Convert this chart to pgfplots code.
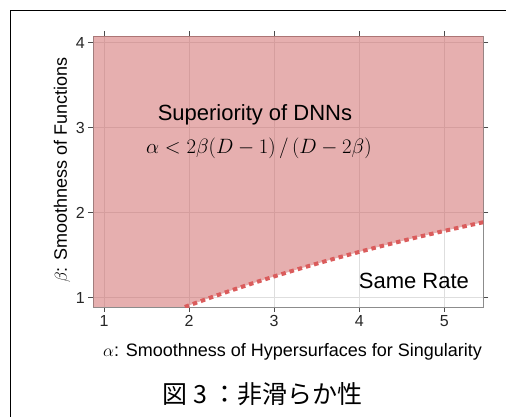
\documentclass[border=0pt]{standalone}
\usepackage{pgfplots}
\pgfplotsset{compat=1.18}
\usepackage{fontspec}
\setmainfont{Liberation Sans}
\newfontfamily\cjk{Noto Sans CJK JP}
\definecolor{fillred}{RGB}{205,95,95}
\definecolor{dotred}{RGB}{218,92,92}
\begin{document}
\begin{tikzpicture}
\useasboundingbox (0pt,0pt) rectangle (506pt,416pt);
\clip (0pt,0pt) rectangle (506pt,416pt);
\draw[line width=1.3pt] (10.5pt,-20pt) -- (10.5pt,405.5pt) -- (530pt,405.5pt);
\begin{axis}[
  at={(93.3pt,109pt)}, anchor=south west,
  width=390pt, height=271pt, scale only axis,
  xmin=0.874, xmax=5.458, ymin=0.89, ymax=4.079,
  xtick={1,2,3,4,5}, ytick={1,2,3,4},
  tick align=outside, major tick length=5pt,
  tick style={black!70, line width=1pt},
  axis line style={black!45, line width=1pt},
  grid=major, grid style={black!13, line width=0.8pt},
  /pgf/number format/assume math mode=true,
  ticklabel style={font=\fontsize{16}{18}\selectfont, text=black!85},
  xlabel={$\alpha$: Smoothness of Hypersurfaces for Singularity},
  ylabel={$\beta$: Smoothness of Functions},
  label style={font=\fontsize{18}{20}\selectfont},
  xlabel style={at={(rel axis cs:0.511,-0.166)}, anchor=center},
  ylabel style={at={(rel axis cs:-0.080,0.505)}, anchor=center},
  clip=true,
]
\addplot[draw=none, fill=fillred, fill opacity=0.5] coordinates {
  (0.874,0.89) (1.95,0.8904) (2.0,0.9091) (2.25,1.0) (2.5,1.0870) (2.75,1.1702)
  (3.0,1.25) (3.25,1.3265) (3.5,1.4) (3.75,1.4706) (4.0,1.5385) (4.25,1.6038)
  (4.5,1.6667) (4.75,1.7273) (5.0,1.7857) (5.25,1.8421) (5.458,1.8876)
  (5.458,4.079) (0.874,4.079)
} -- cycle;
\addplot[dotred, line width=4pt, dash pattern=on 4.5pt off 4pt] coordinates {
  (1.95,0.8904) (2.0,0.9091) (2.25,1.0) (2.5,1.0870) (2.75,1.1702)
  (3.0,1.25) (3.25,1.3265) (3.5,1.4) (3.75,1.4706) (4.0,1.5385) (4.25,1.6038)
  (4.5,1.6667) (4.75,1.7273) (5.0,1.7857) (5.25,1.8421) (5.458,1.8876)
};
\node[font=\fontsize{22}{24}\selectfont] at (axis cs:2.774,3.149) {Superiority of DNNs};
\node[font=\fontsize{21}{24}\selectfont] at (axis cs:2.821,2.761) {$\alpha < 2\beta(D-1)\,/\,(D-2\beta)$};
\node[font=\fontsize{22}{24}\selectfont] at (axis cs:4.643,1.196) {Same Rate};
\end{axis}
\node[font=\cjk\fontsize{25}{28}\selectfont] at (262.5pt,22pt) {図 3 ：非滑らか性};
\end{tikzpicture}
\end{document}
